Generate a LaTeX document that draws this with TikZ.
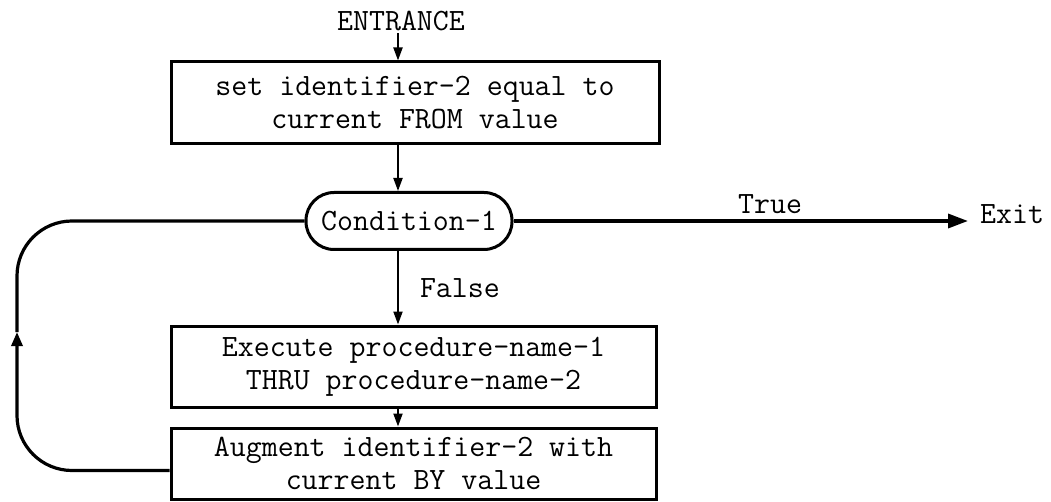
\documentclass[tikz,border=0pt]{standalone}
\usetikzlibrary{arrows.meta,calc}
\newcommand\diagfont{\ttfamily\fontsize{31}{33}\selectfont}
\begin{document}
\begin{tikzpicture}[x=1pt,y=-1pt,
  box/.style={draw,line width=3pt,inner sep=0pt,align=center,font=\diagfont},
  lbl/.style={inner sep=0pt,font=\diagfont},
  arr/.style={line width=2pt,-{Triangle[length=13pt,width=9pt]}},
  bigarr/.style={line width=3.4pt,-{Triangle[length=20pt,width=14pt]}},
  loopline/.style={line width=3.2pt}]
\fill[white] (0,0) rectangle (1051,502);
\useasboundingbox (0,0) rectangle (1051,502);
\coordinate (col) at (398,0);
\coordinate (lp) at (17,332);
\node[lbl] (entr) at (401,21) {ENTRANCE};
\node[box,minimum width=488pt,minimum height=82pt] (b1) at (415,103)
  {set identifier-2 equal to\\current FROM value};
\node[box,rounded corners=28pt,minimum width=206pt,minimum height=57pt] (cond) at (409,221)
  {Condition-1};
\node[box,minimum width=485pt,minimum height=81pt] (b2) at (413.5,366.5)
  {Execute procedure-name-1\\THRU procedure-name-2};
\node[box,minimum width=485pt,minimum height=71pt] (b3) at (413.5,463.5)
  {Augment identifier-2 with\\current BY value};
\node[lbl,anchor=base west] (exit) at (980,224) {Exit};
\draw[arr,shorten <=2pt] (entr.south -| col) -- (b1.north -| col);
\draw[arr] (b1.south -| col) -- (cond.north -| col);
\draw[arr] (cond.south -| col) -- node[lbl,right=21pt] {False} (b2.north -| col);
\draw[arr] (b2.south -| col) -- (b3.north -| col);
\draw[bigarr,shorten >=12pt] (cond.east) -- node[lbl,pos=0.55,above=6pt] {True} (cond.east -| exit.west);
\coordinate (lo) at ($(b3.west)+(0,7)$);
\draw[loopline,-{Triangle[length=14pt,width=11pt]},rounded corners=55pt] (lo) -- (lo -| lp) -- (lp);
\draw[loopline,rounded corners=55pt] (lp) -- (lp |- cond.west) -- (cond.west);
\end{tikzpicture}
\end{document}
